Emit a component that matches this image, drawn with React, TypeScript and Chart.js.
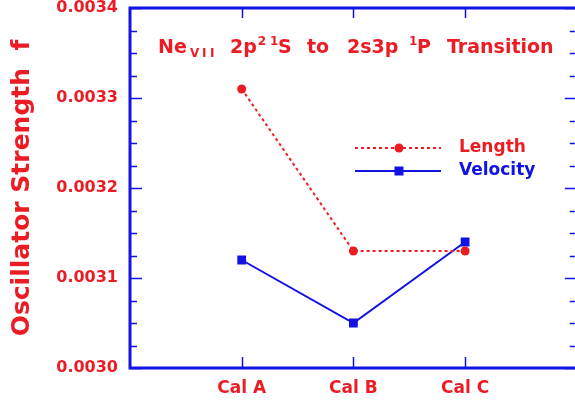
import React, { useEffect, useRef } from 'react';
import { Chart, registerables } from 'chart.js';

Chart.register(...registerables);

// ---- data ----
const categories = ['Cal A', 'Cal B', 'Cal C'];
const categoryPositions = [1, 2, 3];
const lengthValues = [0.00331, 0.00313, 0.00313];
const velocityValues = [0.00312, 0.00305, 0.00314];
const seriesNames = ['Length', 'Velocity'];
const yTickValues = [0.003, 0.0031, 0.0032, 0.0033, 0.0034];
const yMinorPerMajor = 4;
const xRange = [0, 4];
const yAxisTitle = 'Oscillator Strength  f';

// ---- style ----
const RED = '#ec1c24';
const BLUE = '#1212e4';
const FONT = '"DejaVu Sans", "Liberation Sans", sans-serif';

const framePlugin = {
  id: 'frame',
  beforeDatasetsDraw(chart: any) {
    const { ctx, chartArea: a, scales } = chart;
    const ys = scales.y;
    const xs = scales.x;
    ctx.save();
    ctx.strokeStyle = BLUE;
    ctx.lineWidth = 1.5;
    const step = (yTickValues[1] - yTickValues[0]) / yMinorPerMajor;
    const n = (yTickValues.length - 1) * yMinorPerMajor;
    for (let i = 0; i <= n; i++) {
      const v = yTickValues[0] + i * step;
      const y = Math.round(ys.getPixelForValue(v)) + 0.5;
      const len = i % yMinorPerMajor === 0 ? 12 : 7;
      ctx.beginPath();
      ctx.moveTo(a.left, y);
      ctx.lineTo(a.left + len, y);
      ctx.moveTo(a.right, y);
      ctx.lineTo(a.right - len, y);
      ctx.stroke();
    }
    categoryPositions.forEach((p) => {
      const x = Math.round(xs.getPixelForValue(p)) + 0.5;
      ctx.beginPath();
      ctx.moveTo(x, a.bottom);
      ctx.lineTo(x, a.bottom - 11);
      ctx.moveTo(x, a.top);
      ctx.lineTo(x, a.top + 10);
      ctx.stroke();
    });
    ctx.lineWidth = 3;
    ctx.strokeRect(a.left, a.top, a.right - a.left, a.bottom - a.top);
    ctx.restore();
  },
};

const titlePlugin = {
  id: 'innerTitle',
  afterDraw(chart: any) {
    const { ctx } = chart;
    const base = 53;
    const big = `bold 19px ${FONT}`;
    const small = `bold 12px ${FONT}`;
    // [text, x (or -1 = follow previous), font, baseline offset]
    const segs: [string, number, string, number][] = [
      ['Ne', 158, big, 0],
      ['V', 190, small, 4],
      ['I', 202, small, 4],
      ['I', 210, small, 4],
      ['2p', 230, big, 0],
      ['2', -1, small, -8],
      ['1', 270, small, -8],
      ['S', 278, big, 0],
      ['to', 307, big, 0],
      ['2s3p', 347, big, 0],
      ['1', 409, small, -8],
      ['P', 417, big, 0],
      ['Transition', 447, big, 0],
    ];
    ctx.save();
    ctx.fillStyle = RED;
    ctx.textBaseline = 'alphabetic';
    ctx.textAlign = 'left';
    let prevEnd = 0;
    segs.forEach(([t, x, f, dy]) => {
      ctx.font = f;
      const px = x < 0 ? prevEnd + 1 : x;
      ctx.fillText(t, px, base + dy);
      prevEnd = px + ctx.measureText(t).width;
    });
    ctx.restore();
  },
};

const legendPlugin = {
  id: 'innerLegend',
  afterDraw(chart: any) {
    const { ctx } = chart;
    const x0 = 355, x1 = 441, xm = 399, xt = 459;
    const rows = [148, 171];
    ctx.save();
    ctx.strokeStyle = RED;
    ctx.fillStyle = RED;
    ctx.lineWidth = 2;
    ctx.setLineDash([3, 3]);
    ctx.beginPath();
    ctx.moveTo(x0, rows[0]);
    ctx.lineTo(x1, rows[0]);
    ctx.stroke();
    ctx.setLineDash([]);
    ctx.beginPath();
    ctx.arc(xm, rows[0], 4.5, 0, Math.PI * 2);
    ctx.fill();
    ctx.strokeStyle = BLUE;
    ctx.fillStyle = BLUE;
    ctx.lineWidth = 2;
    ctx.beginPath();
    ctx.moveTo(x0, rows[1]);
    ctx.lineTo(x1, rows[1]);
    ctx.stroke();
    ctx.fillRect(xm - 4.5, rows[1] - 4.5, 9, 9);
    ctx.font = `bold 17px ${FONT}`;
    ctx.textBaseline = 'middle';
    ctx.fillStyle = RED;
    ctx.fillText(seriesNames[0], xt, rows[0]);
    ctx.fillStyle = BLUE;
    ctx.fillText(seriesNames[1], xt, rows[1]);
    ctx.restore();
  },
};

export default function App() {
  const ref = useRef<HTMLCanvasElement>(null);
  useEffect(() => {
    if (!ref.current) return;
    const chart = new Chart(ref.current, {
      type: 'line',
      data: {
        datasets: [
          {
            label: seriesNames[0],
            data: lengthValues.map((v, i) => ({ x: categoryPositions[i], y: v })),
            borderColor: RED,
            backgroundColor: RED,
            borderWidth: 2,
            borderDash: [3, 3],
            pointStyle: 'circle',
            pointRadius: 4.5,
            pointBorderWidth: 0,
            pointBackgroundColor: RED,
          },
          {
            label: seriesNames[1],
            data: velocityValues.map((v, i) => ({ x: categoryPositions[i], y: v })),
            borderColor: BLUE,
            backgroundColor: BLUE,
            borderWidth: 2,
            pointStyle: 'rect',
            pointRadius: 6.2,
            pointBorderWidth: 0,
            pointBackgroundColor: BLUE,
          },
        ],
      },
      options: {
        responsive: false,
        animation: false,
        events: [],
        layout: { padding: { top: 8, right: 4, bottom: 0, left: 0 } },
        plugins: { legend: { display: false }, tooltip: { enabled: false }, title: { display: false } },
        scales: {
          x: {
            type: 'linear',
            min: xRange[0],
            max: xRange[1],
            afterBuildTicks: (s: any) => {
              s.ticks = categoryPositions.map((v) => ({ value: v }));
            },
            afterFit: (s: any) => {
              s.height = 34;
              s.paddingLeft = 0;
              s.paddingRight = 0;
            },
            ticks: {
              autoSkip: false,
              maxRotation: 0,
              padding: 10,
              color: RED,
              font: { family: FONT, size: 17, weight: 'bold' },
              callback: (v: any) => {
                const i = categoryPositions.indexOf(Number(v));
                return i >= 0 ? categories[i] : '';
              },
            },
            grid: { display: false, drawTicks: false },
            border: { display: false },
          },
          y: {
            type: 'linear',
            min: yTickValues[0],
            max: yTickValues[yTickValues.length - 1],
            afterBuildTicks: (s: any) => {
              s.ticks = yTickValues.map((v) => ({ value: v }));
            },
            afterFit: (s: any) => {
              s.width = 130;
              s.paddingTop = 0;
              s.paddingBottom = 0;
            },
            ticks: {
              padding: 12,
              color: RED,
              font: { family: FONT, size: 16, weight: 'bold' },
              callback: (v: any) => Number(v).toFixed(4),
            },
            title: {
              display: true,
              text: yAxisTitle,
              color: RED,
              font: { family: FONT, size: 25, weight: 'bold' },
              padding: { top: 7, bottom: 0 },
            },
            grid: { display: false, drawTicks: false },
            border: { display: false },
          },
        },
      },
      plugins: [framePlugin, titlePlugin, legendPlugin],
    } as any);
    return () => chart.destroy();
  }, []);
  return (
    <div style={{ position: 'absolute', left: 0, top: 0, width: 575, height: 402, overflow: 'hidden', background: '#fff' }}>
      <canvas ref={ref} width={583} height={402} style={{ display: 'block' }} />
    </div>
  );
}
